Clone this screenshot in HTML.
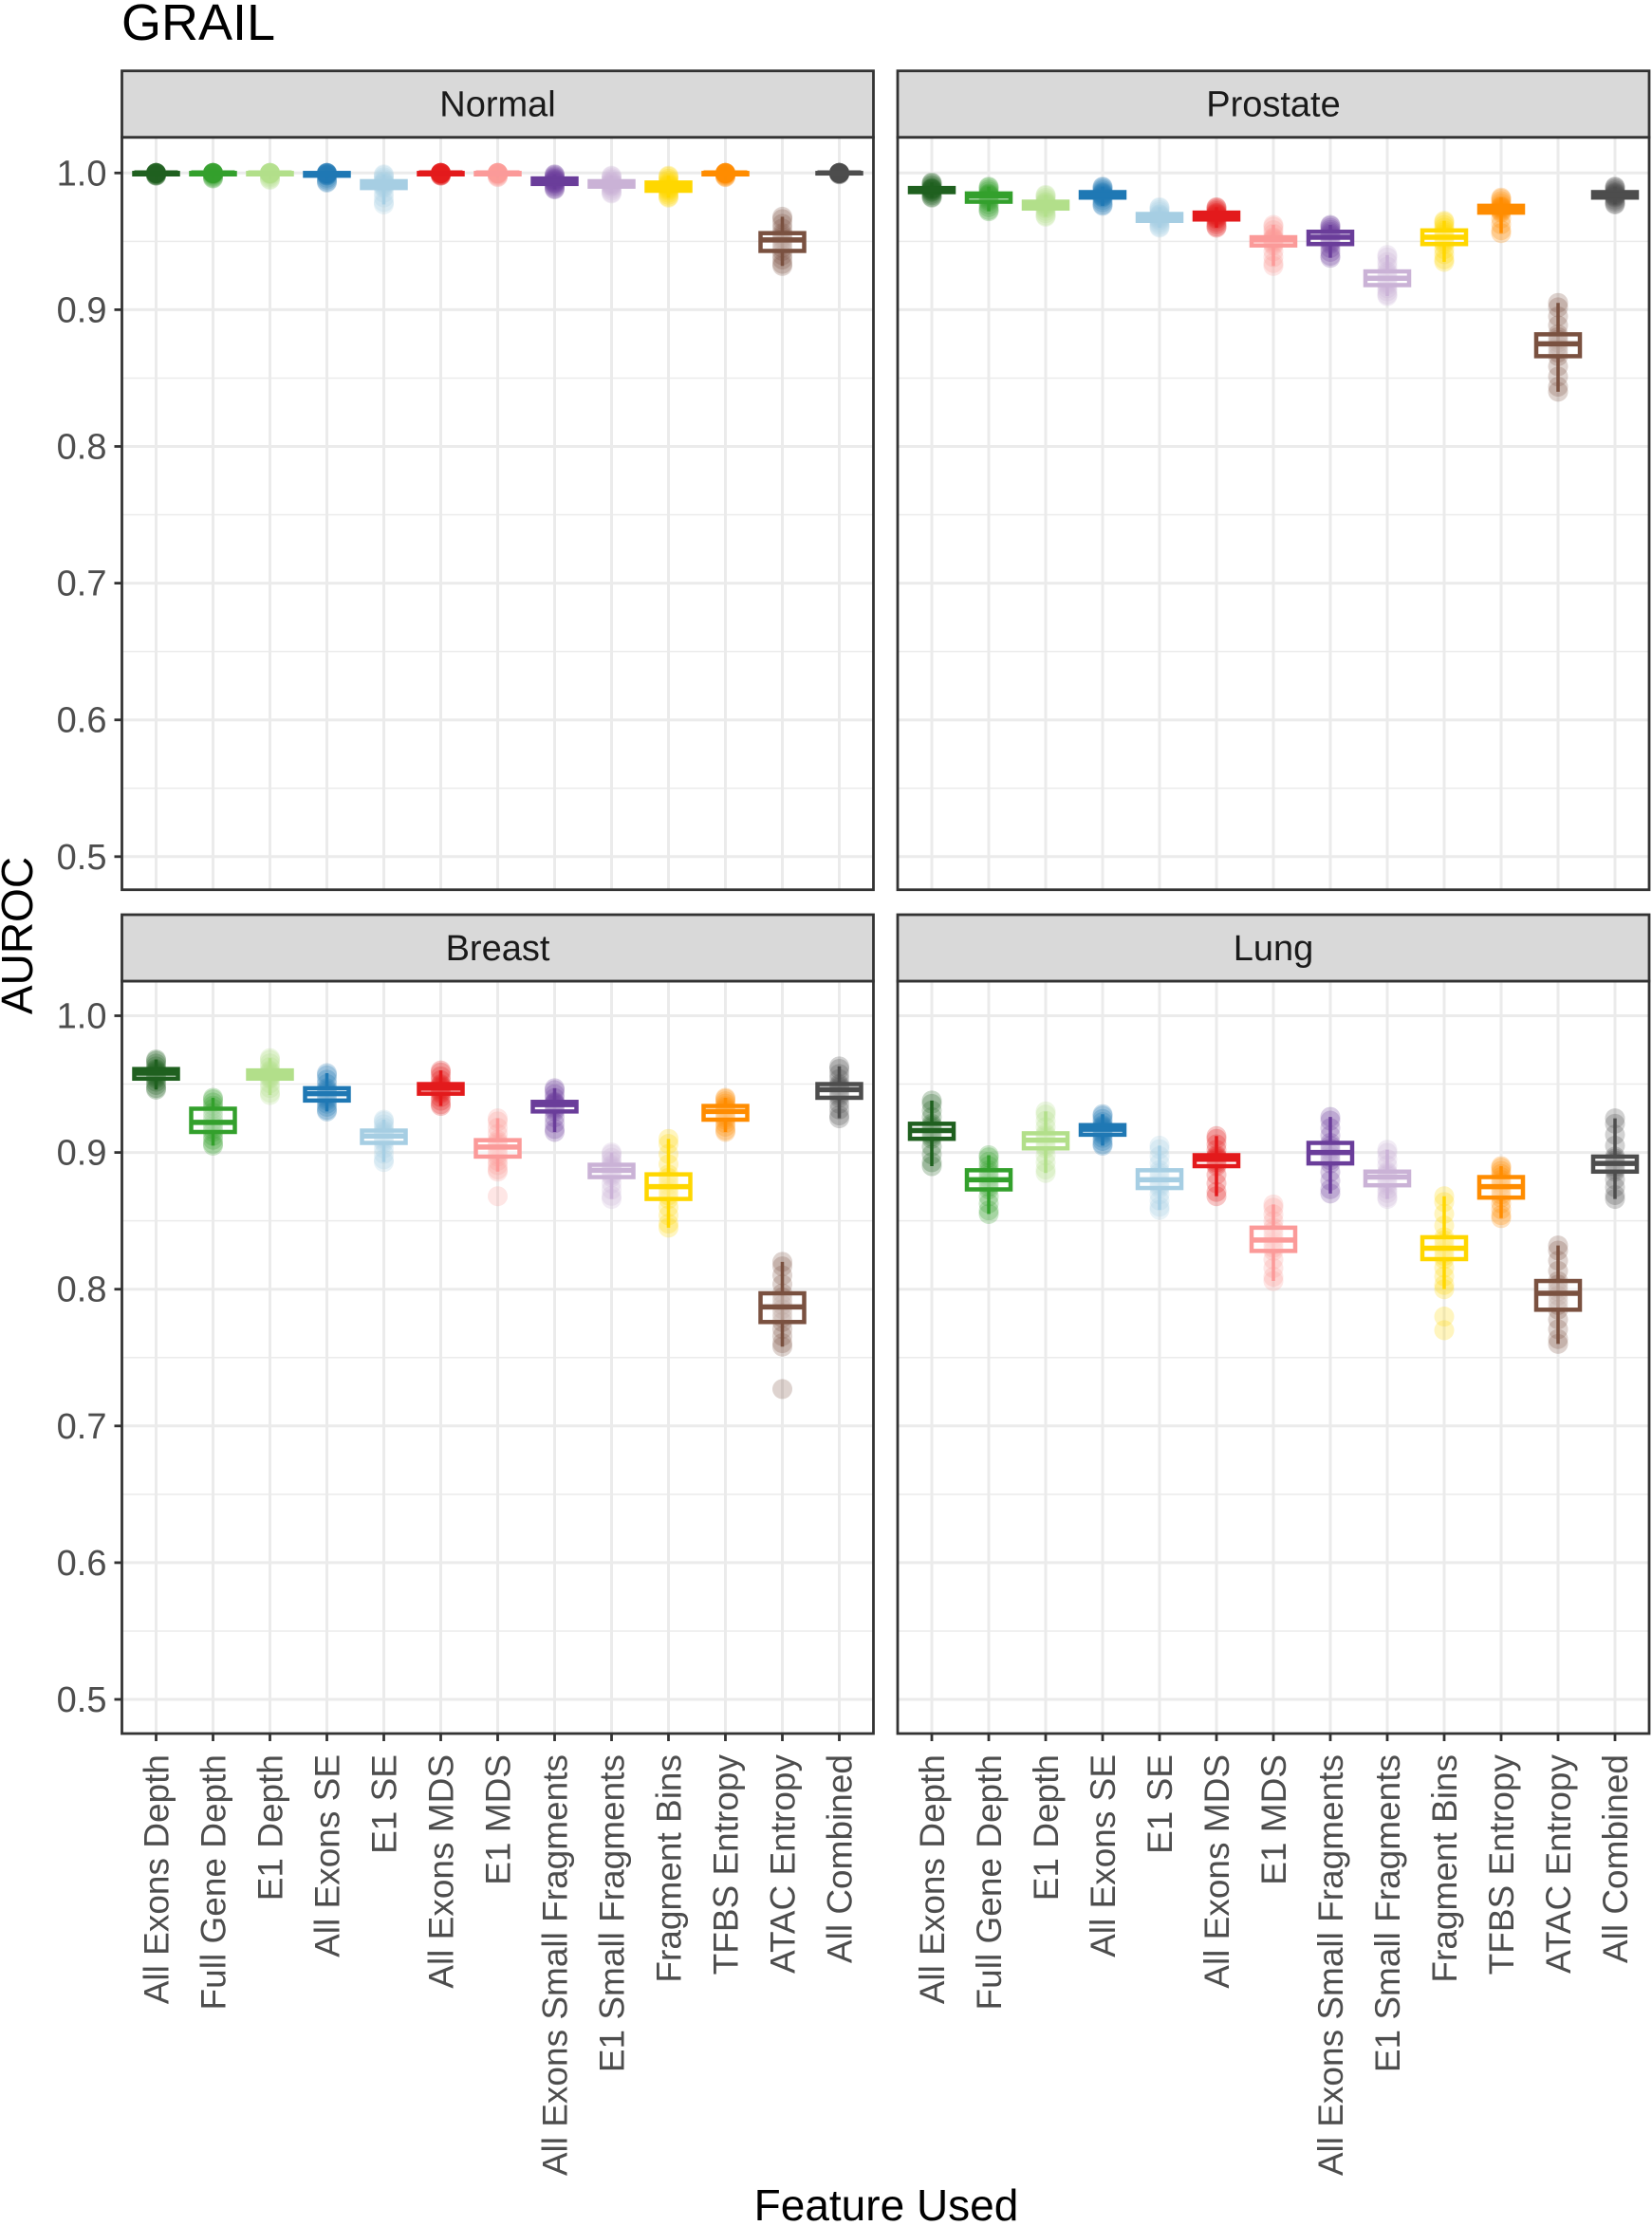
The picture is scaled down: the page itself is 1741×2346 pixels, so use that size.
<!DOCTYPE html>
<html><head><meta charset="utf-8"><style>
html,body{margin:0;padding:0;background:#fff;}
svg{display:block;font-family:"Liberation Sans",Arial,sans-serif;}
</style></head><body>
<svg id="s" width="1741" height="2346" viewBox="0 0 1741 2346" xmlns="http://www.w3.org/2000/svg">
<text x="128" y="42" font-size="54" fill="#000">GRAIL</text>
<text transform="translate(34,986) rotate(-90)" text-anchor="middle" font-size="46" fill="#000">AUROC</text>
<text x="934" y="2340" text-anchor="middle" font-size="46" fill="#000">Feature Used</text>
<g id="g"></g>
</svg>
<script>
var cats=["All Exons Depth","Full Gene Depth","E1 Depth","All Exons SE","E1 SE","All Exons MDS","E1 MDS","All Exons Small Fragments","E1 Small Fragments","Fragment Bins","TFBS Entropy","ATAC Entropy","All Combined"];
var cols=["#1f601f","#33a02c","#b2df8a","#1f78b4","#a6cee3","#e31a1c","#fb9a99","#6a3d9a","#cab2d6","#ffd700","#ff8c00","#7a5140","#4d4d4d"];
var data={
Normal:[[0.998,0.999,1.0,1.0,1.0],[0.996,0.999,1.0,1.0,1.0],[0.995,0.999,1.0,1.0,1.0],[0.993,0.998,0.999,1.0,1.0],[0.977,0.989,0.992,0.994,0.999],[0.998,0.999,1.0,1.0,1.0],[0.997,0.999,1.0,1.0,1.0],[0.988,0.992,0.994,0.996,0.999],[0.985,0.99,0.992,0.994,0.998],[0.982,0.987,0.99,0.993,0.998],[0.997,0.999,1.0,1.0,1.0],[0.932,0.943,0.951,0.956,0.968],[0.999,1.0,1.0,1.0,1.0]],
Prostate:[[0.982,0.986,0.988,0.989,0.993],[0.972,0.979,0.983,0.985,0.99],[0.968,0.974,0.977,0.979,0.984],[0.976,0.982,0.984,0.986,0.99],[0.96,0.965,0.968,0.97,0.975],[0.96,0.966,0.969,0.971,0.975],[0.932,0.947,0.951,0.953,0.962],[0.938,0.948,0.953,0.957,0.962],[0.91,0.918,0.923,0.928,0.94],[0.935,0.948,0.953,0.958,0.965],[0.956,0.971,0.974,0.976,0.982],[0.84,0.866,0.875,0.882,0.905],[0.977,0.982,0.984,0.986,0.99]],
Breast:[[0.946,0.954,0.958,0.961,0.968],[0.905,0.915,0.922,0.932,0.94],[0.942,0.954,0.957,0.96,0.969],[0.93,0.938,0.943,0.947,0.958],[0.893,0.907,0.912,0.916,0.924],[0.934,0.943,0.947,0.95,0.96],[0.886,0.897,0.904,0.909,0.925,[0.868]],[0.915,0.93,0.935,0.937,0.947],[0.866,0.882,0.887,0.891,0.9],[0.845,0.866,0.875,0.884,0.91],[0.915,0.924,0.93,0.934,0.94],[0.758,0.776,0.787,0.797,0.82,[0.727]],[0.925,0.94,0.946,0.95,0.963]],
Lung:[[0.89,0.91,0.916,0.921,0.938],[0.855,0.873,0.88,0.887,0.898],[0.885,0.903,0.909,0.914,0.93],[0.905,0.913,0.917,0.92,0.928],[0.858,0.874,0.88,0.887,0.905],[0.868,0.89,0.895,0.898,0.912],[0.806,0.828,0.836,0.845,0.862],[0.87,0.892,0.9,0.907,0.926],[0.866,0.876,0.882,0.886,0.902],[0.8,0.822,0.83,0.838,0.868,[0.78,0.77]],[0.852,0.867,0.875,0.882,0.89],[0.76,0.785,0.797,0.806,0.832],[0.866,0.886,0.892,0.897,0.925]]};
var panels=[["Normal",128.5,74.7,182.3],["Prostate",946,74.7,182.3],["Breast",128.5,964,1070.5],["Lung",946,964,1070.5]];
var h="";var W=792,SH=70,PH=793,U=1441;
panels.forEach(function(p){
 var name=p[0],x0=p[1],st=p[2],y1=p[3],top=st+SH,bot=top+PH;
 function Y(v){return y1+(1-v)*U;}
 h+='<rect x="'+x0+'" y="'+top+'" width="'+W+'" height="'+PH+'" fill="#fff"/>';
 for(var v=0.45;v<=1.03;v+=0.05){var yy=Y(v);if(yy<top||yy>bot)continue;
  var maj=Math.abs(Math.round(v*10)-v*10)<0.01;
  h+='<line x1="'+x0+'" x2="'+(x0+W)+'" y1="'+yy+'" y2="'+yy+'" stroke="#ebebeb" stroke-width="'+(maj?3:1.5)+'"/>';}
 for(var i=0;i<13;i++){var cx=x0+36+60*i;h+='<line x1="'+cx+'" x2="'+cx+'" y1="'+top+'" y2="'+bot+'" stroke="#ebebeb" stroke-width="3"/>';}
 var d=data[name];
 for(var i=0;i<13;i++){var cx=x0+36+60*i,q=d[i],c=cols[i];
  var pts=[q[0],q[4]];var n=14;for(var k=0;k<n;k++){var t=(k+0.5)/n;var v;
   if(t<0.25)v=q[0]+(q[1]-q[0])*t/0.25;else if(t<0.5)v=q[1]+(q[2]-q[1])*(t-0.25)/0.25;else if(t<0.75)v=q[2]+(q[3]-q[2])*(t-0.5)/0.25;else v=q[3]+(q[4]-q[3])*(t-0.75)/0.25;pts.push(v);}
  if(q[5])pts=pts.concat(q[5]);
  pts.forEach(function(v){h+='<circle cx="'+cx+'" cy="'+Y(v)+'" r="10.5" fill="'+c+'" fill-opacity="0.25"/>';});
  var lo=q[0],hi=q[4];
  h+='<line x1="'+cx+'" x2="'+cx+'" y1="'+Y(hi)+'" y2="'+Y(lo)+'" stroke="'+c+'" stroke-width="3.5"/>';
  var bt=Y(q[3]),bb=Y(q[1]);
  h+='<rect x="'+(cx-23)+'" y="'+bt+'" width="46" height="'+Math.max(bb-bt,0.5)+'" fill="#fff" fill-opacity="0.45" stroke="'+c+'" stroke-width="4.5"/>';
  h+='<line x1="'+(cx-23)+'" x2="'+(cx+23)+'" y1="'+Y(q[2])+'" y2="'+Y(q[2])+'" stroke="'+c+'" stroke-width="5.5"/>';
 }
 h+='<rect x="'+x0+'" y="'+top+'" width="'+W+'" height="'+PH+'" fill="none" stroke="#333" stroke-width="2.8"/>';
 h+='<rect x="'+x0+'" y="'+st+'" width="'+W+'" height="'+SH+'" fill="#d9d9d9" stroke="#333" stroke-width="2.8"/>';
 h+='<text x="'+(x0+W/2)+'" y="'+(st+SH/2+13)+'" text-anchor="middle" font-size="38" fill="#1a1a1a">'+name+'</text>';
 if(x0<500){for(var v=5;v<=10;v++){var yy=Y(v/10);
  h+='<line x1="'+(x0-8)+'" x2="'+x0+'" y1="'+yy+'" y2="'+yy+'" stroke="#333" stroke-width="2.8"/>';
  h+='<text x="'+(x0-16)+'" y="'+(yy+13)+'" text-anchor="end" font-size="38" fill="#4d4d4d">'+(v/10).toFixed(1)+'</text>';}}
 if(st>500){for(var i=0;i<13;i++){var cx=x0+36+60*i;
  h+='<line x1="'+cx+'" x2="'+cx+'" y1="'+bot+'" y2="'+(bot+8)+'" stroke="#333" stroke-width="2.8"/>';
  h+='<text transform="translate('+(cx+13)+','+(bot+22)+') rotate(-90)" text-anchor="end" font-size="37" fill="#4d4d4d">'+cats[i]+'</text>';}}
});
document.getElementById("g").innerHTML=h;
</script>
</body></html>
